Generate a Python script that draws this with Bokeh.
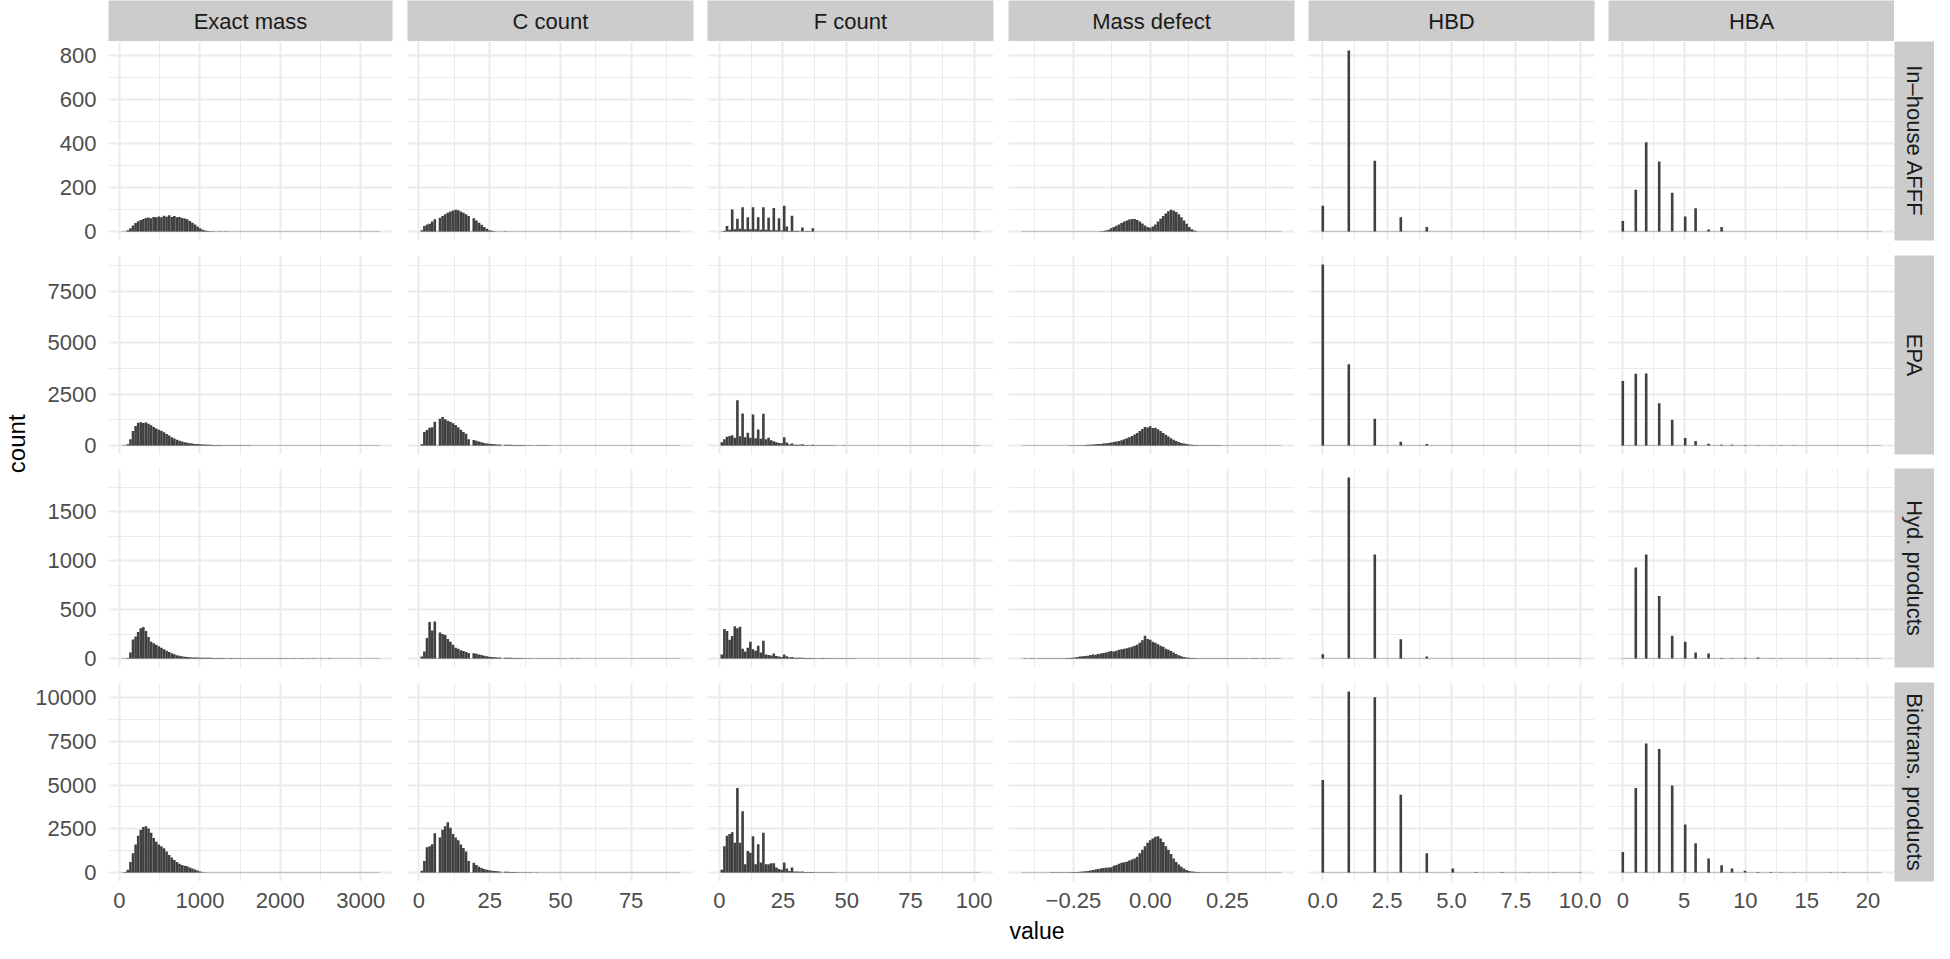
import numpy as np
from bokeh.plotting import figure
from bokeh.models import Range1d, FixedTicker, GridBox
from bokeh.embed import file_html
from bokeh.resources import INLINE
from bokeh.core.properties import value

# ---------------- data ----------------
variables = ["Exact mass", "C count", "F count", "Mass defect", "HBD", "HBA"]
datasets = ["In–house AFFF", "EPA", "Hyd. products", "Biotrans. products"]

var_min = [40.0, 1.0, 1.0, -0.4143, 0.0, 0.0]
var_max = [3218.0, 92.0, 102.0, 0.4215, 10.0, 21.0]
n_bins = 100

# Exact mass: counts per histogram bin (bin 0 first)
mass_inhouse = [0, 0, 5, 15, 27, 38, 46, 52, 57, 61, 63, 60, 66, 64, 68, 65, 71, 67, 73, 66,
                70, 64, 66, 61, 59, 55, 48, 40, 31, 22, 14, 8, 4, 2, 1, 1, 0, 0, 1, 0, 1]
mass_epa = [0, 10, 60, 300, 700, 950, 1100, 1130, 1090, 1120, 1060, 980, 900, 830, 770, 710, 640,
            560, 480, 400, 340, 280, 230, 190, 160, 130, 110, 90, 75, 65, 55, 48, 42, 36, 30, 26,
            22, 20, 17, 15, 12, 10, 9, 8, 7, 6, 5, 5, 4, 4, 3, 3, 2, 2, 2, 1, 1, 2, 1, 1, 1, 0, 1,
            0, 1, 0, 0, 1, 0, 0, 1]
mass_hyd = [0, 0, 5, 60, 195, 225, 270, 310, 322, 280, 220, 170, 155, 140, 125, 110, 95, 80, 65, 52,
            42, 34, 27, 22, 18, 15, 13, 11, 10, 9, 8, 7, 7, 6, 6, 5, 5, 4, 4, 5, 3, 3, 4, 2, 3, 2, 2,
            3, 2, 2, 1, 2, 1, 2, 1, 1, 3, 1, 1, 1, 2, 1, 1, 1, 1, 0, 1, 1, 0, 2, 1, 0, 1, 0, 1, 0, 0,
            1, 0, 0, 1]
mass_bio = [0, 20, 150, 600, 1100, 1600, 2100, 2450, 2600, 2650, 2520, 2280, 1980, 1760, 1600, 1500,
            1380, 1200, 1000, 850, 720, 600, 500, 430, 390, 350, 290, 230, 170, 110, 55, 15, 5, 3,
            2, 2, 1, 1, 1, 0, 1]

# C count: counts per carbon number, starting at C = 1
c_first = 1
c_inhouse = [5, 25, 32, 35, 45, 55, 62, 70, 78, 85, 90, 95, 98, 96, 90, 85, 78, 70, 60, 50, 40, 30,
             20, 12, 6, 3, 1, 0, 0, 1]
c_epa = [60, 650, 750, 860, 880, 1150, 1300, 1380, 1280, 1200, 1150, 1080, 1000, 880, 760, 650, 570,
         300, 270, 230, 190, 150, 120, 100, 85, 70, 60, 50, 45, 40, 35, 30, 28, 25, 22, 20, 18, 15,
         12, 10, 9, 8, 7, 6, 5, 4, 3, 3, 2, 2]
c_hyd = [20, 70, 210, 374, 285, 378, 265, 250, 240, 200, 170, 140, 110, 100, 85, 75, 65, 55, 52, 48,
         40, 35, 28, 22, 18, 15, 12, 10, 9, 8, 7, 6, 5, 5, 4, 4, 3, 3, 3, 2, 2, 2, 2, 1, 2, 1, 1, 1,
         1, 1, 0, 1, 0, 1, 0, 1]
c_bio = [100, 650, 1450, 1500, 1620, 2250, 2000, 2450, 2650, 2880, 2560, 2200, 2000, 1850, 1600, 1400,
         1200, 660, 560, 430, 330, 250, 200, 160, 130, 100, 80, 65, 55, 45, 35, 30, 25, 20, 18, 15,
         12, 10, 8, 6, 5, 4, 3, 3, 2, 2, 1, 1]

# F count: counts per fluorine number, starting at F = 1
f_first = 1
f_inhouse = [0, 3, 25, 8, 100, 10, 58, 12, 110, 10, 65, 10, 110, 10, 65, 8, 110, 8, 62, 6, 106, 5,
             60, 4, 117, 3, 20, 2, 71, 2, 3, 1, 18, 1, 2, 1, 15]
f_epa = [150, 300, 420, 460, 500, 380, 2200, 450, 1550, 400, 620, 380, 1510, 350, 780, 330, 1540,
         300, 380, 250, 200, 150, 120, 110, 400, 80, 60, 50, 100, 40, 35, 30, 60, 25, 20, 15, 40,
         12, 10, 8, 15, 6, 5, 4, 8, 3, 3, 2, 5, 2, 2, 1, 3]
f_hyd = [40, 300, 280, 190, 230, 330, 310, 325, 100, 70, 110, 170, 95, 80, 130, 60, 180, 40, 35, 30,
         50, 25, 20, 15, 40, 12, 10, 10, 15, 8, 7, 6, 8, 5, 5, 4, 5, 3, 3, 3, 4, 2, 2, 2, 3, 2, 1,
         1, 2, 1, 1, 1, 1]
f_bio = [150, 1500, 2100, 2200, 2300, 1700, 4830, 1700, 3500, 470, 1230, 1130, 2080, 470, 1610, 570,
         2270, 470, 470, 530, 530, 280, 200, 150, 570, 120, 100, 90, 280, 60, 50, 40, 60, 30, 25,
         20, 30, 15, 12, 10, 12, 8, 6, 5, 6, 4, 3, 3, 3, 2, 2, 1, 1]

# Mass defect: counts per histogram bin (bin 0 first)
md_inhouse = [0, 0, 0, 0, 0, 0, 0, 0, 0, 0, 0, 0, 0, 0, 0, 0, 0, 0, 0, 0,
              0, 0, 0, 0, 0, 0, 0, 0, 0, 0, 1, 2, 4, 8, 14, 20, 26, 32, 38, 45,
              50, 54, 57, 56, 52, 45, 36, 27, 20, 17, 22, 32, 45, 58, 70, 82, 92, 98, 95, 88,
              78, 65, 50, 35, 20, 10, 4, 1]
md_epa = [0, 0, 1, 0, 0, 1, 0, 1, 0, 1, 1, 0, 1, 1, 2, 2, 3, 3, 4, 4,
          8, 10, 12, 15, 20, 30, 38, 45, 55, 65, 75, 90, 105, 120, 140, 165, 190, 220, 255, 300,
          350, 400, 460, 530, 610, 700, 800, 900, 870, 940, 850, 860, 790, 700, 610, 520, 430, 350,
          280, 220, 170, 125, 90, 65, 45, 30, 22, 17, 13, 10, 8, 7, 6, 5, 5, 4, 4, 3, 3, 3,
          2, 2, 2, 1, 2, 1, 1, 1, 0, 1, 0, 1, 0, 1, 0, 0, 1, 0, 0, 0]
md_hyd = [0, 1, 0, 1, 1, 0, 1, 1, 1, 2, 1, 2, 2, 2, 3, 2, 3, 4, 5, 8,
          10, 15, 20, 22, 25, 28, 35, 40, 38, 45, 50, 55, 60, 68, 75, 72, 80, 88, 95, 98,
          105, 112, 120, 130, 140, 160, 185, 231, 200, 190, 170, 160, 145, 130, 120, 100, 90, 75,
          60, 45, 34, 22, 14, 10, 7, 5, 4, 3, 3, 2, 2, 2, 3, 2, 2, 1, 2, 2, 1, 2,
          1, 1, 2, 1, 1, 1, 1, 0, 1, 1, 1, 0, 1, 1, 0, 1, 0, 1, 0, 0]
md_bio = [1, 1, 2, 2, 2, 3, 3, 3, 4, 4, 4, 5, 5, 6, 6, 5, 8, 10, 15, 20,
          25, 30, 40, 55, 70, 90, 110, 140, 170, 200, 230, 250, 270, 290, 300, 380, 430, 500, 560,
          580, 620, 680, 740, 800, 900, 1100, 1300, 1500, 1700, 1850, 1950, 2050, 2080, 1950, 1750,
          1500, 1300, 1050, 800, 600, 450, 320, 220, 140, 80, 50, 35, 25, 20, 15,
          12, 10, 9, 8, 7, 6, 6, 5, 5, 4, 4, 4, 3, 3, 3, 3, 2, 2, 2, 2, 2, 2, 1, 1, 1, 1, 1, 1, 0, 1]

# HBD: counts per donor number, starting at 0
hbd_first = 0
hbd_inhouse = [117, 821, 321, 65, 20]
hbd_epa = [8800, 3950, 1300, 180, 65, 10, 3]
hbd_hyd = [44, 1850, 1064, 197, 20, 3]
hbd_bio = [5300, 10360, 10040, 4450, 1100, 227, 20, 30, 15, 10, 5]

# HBA: counts per acceptor number, starting at 0
hba_first = 0
hba_inhouse = [48, 189, 405, 317, 176, 68, 105, 9, 20]
hba_epa = [3135, 3490, 3500, 2050, 1250, 357, 211, 80, 40, 30, 20, 15, 10, 5, 10, 3]
hba_hyd = [0, 929, 1064, 639, 231, 170, 61, 51, 5, 3, 8, 10, 3, 3, 0, 0, 0, 3, 0, 3]
hba_bio = [1174, 4830, 7386, 7064, 4981, 2746, 1667, 795, 417, 227, 95, 30, 20, 10, 5, 3, 3, 15, 10, 3, 2, 1]

x_major = [[0, 1000, 2000, 3000], [0, 25, 50, 75], [0, 25, 50, 75, 100], [-0.25, 0, 0.25],
           [0, 2.5, 5, 7.5, 10], [0, 5, 10, 15, 20]]
x_labels = [["0", "1000", "2000", "3000"], ["0", "25", "50", "75"], ["0", "25", "50", "75", "100"],
            ["−0.25", "0.00", "0.25"], ["0.0", "2.5", "5.0", "7.5", "10.0"], ["0", "5", "10", "15", "20"]]
x_minor = [[500, 1500, 2500], [12.5, 37.5, 62.5, 87.5], [12.5, 37.5, 62.5, 87.5],
           [-0.375, -0.125, 0.125, 0.375], [1.25, 3.75, 6.25, 8.75], [2.5, 7.5, 12.5, 17.5]]
y_major = [[0, 200, 400, 600, 800], [0, 2500, 5000, 7500], [0, 500, 1000, 1500],
           [0, 2500, 5000, 7500, 10000]]
y_labels = [["0", "200", "400", "600", "800"], ["0", "2500", "5000", "7500"],
            ["0", "500", "1000", "1500"], ["0", "2500", "5000", "7500", "10000"]]
y_minor = [[100, 300, 500, 700], [1250, 3750, 6250, 8750], [250, 750, 1250, 1750],
           [1250, 3750, 6250, 8750]]

# panel table: (values, first integer value or None for per-bin counts)
table = [
    [(mass_inhouse, None), (c_inhouse, c_first), (f_inhouse, f_first), (md_inhouse, None), (hbd_inhouse, hbd_first), (hba_inhouse, hba_first)],
    [(mass_epa, None), (c_epa, c_first), (f_epa, f_first), (md_epa, None), (hbd_epa, hbd_first), (hba_epa, hba_first)],
    [(mass_hyd, None), (c_hyd, c_first), (f_hyd, f_first), (md_hyd, None), (hbd_hyd, hbd_first), (hba_hyd, hba_first)],
    [(mass_bio, None), (c_bio, c_first), (f_bio, f_first), (md_bio, None), (hbd_bio, hbd_first), (hba_bio, hba_first)],
]

# ---------------- style / layout ----------------
FONT = "Liberation Sans"
GRID = "#EBEBEB"
STRIP = "#CCCCCC"
BAR = "#404040"
TICK_SIZE = "22px"
col_lb = [74, 8, 7, 8, 7, 7]
col_rb = [7, 7, 7, 7, 7, 0]
row_tb = [0, 8, 7, 8]
row_bb = [7, 7, 7, 37]
FW, FH = 286, 199
STRIP_H = 41
RSTRIP_W = 40
COUNT_W = 32
VALUE_H = 25


def bin_panel(c, vals, first):
    bw = (var_max[c] - var_min[c]) / (n_bins - 1)
    start = var_min[c] - bw / 2
    counts = np.zeros(n_bins)
    if first is None:
        counts[:len(vals)] = vals
    else:
        for i, cnt in enumerate(vals):
            k = int(np.floor((first + i - start) / bw + 1e-9))
            counts[min(max(k, 0), n_bins - 1)] += cnt
    lefts = start + np.arange(n_bins) * bw
    return lefts, lefts + bw, counts


def key(t):
    return int(t) if float(t).is_integer() else t


def bare(width, height, xr, yr, lb, rb, tb, bb, bg="white"):
    f = figure(width=width, height=height, x_range=xr, y_range=yr, output_backend="svg",
               toolbar_location=None, tools="", x_axis_location=None, y_axis_location=None,
               min_border_left=lb, min_border_right=rb, min_border_top=tb, min_border_bottom=bb,
               background_fill_color=bg, border_fill_color="white", outline_line_color=None,
               title=None)
    f.grid.visible = False
    return f


binned = [[bin_panel(c, *table[r][c]) for c in range(6)] for r in range(4)]
row_max = [max(binned[r][c][2].max() for c in range(6)) for r in range(4)]

children = []

# top strips
for c in range(6):
    s = bare(col_lb[c] + FW + col_rb[c], STRIP_H, Range1d(0, 1), Range1d(0, 1),
             col_lb[c], col_rb[c], 0, 0, bg=STRIP)
    s.text(x=[0.5], y=[0.5], text=[variables[c]], text_align="center", text_baseline="middle",
           text_font=value(FONT), text_font_size=TICK_SIZE, text_color="#1A1A1A")
    children.append((s, 0, c + 1))

# panels
for r in range(4):
    M = row_max[r]
    for c in range(6):
        lefts, rights, cnt = binned[r][c]
        x0, x1 = lefts[0], rights[-1]
        span = x1 - x0
        p = figure(width=col_lb[c] + FW + col_rb[c], height=row_tb[r] + FH + row_bb[r],
                   x_range=Range1d(x0 - 0.05 * span, x1 + 0.05 * span),
                   y_range=Range1d(-0.05 * M, 1.05 * M),
                   output_backend="svg", toolbar_location=None, tools="",
                   x_axis_location="below" if r == 3 else None,
                   y_axis_location="left" if c == 0 else None,
                   min_border_left=col_lb[c], min_border_right=col_rb[c],
                   min_border_top=row_tb[r], min_border_bottom=row_bb[r],
                   background_fill_color="white", border_fill_color="white",
                   outline_line_color=None, title=None)
        p.xgrid.ticker = FixedTicker(ticks=x_major[c], minor_ticks=x_minor[c])
        p.ygrid.ticker = FixedTicker(ticks=y_major[r], minor_ticks=y_minor[r])
        for g in (p.xgrid, p.ygrid):
            g.grid_line_color = GRID
            g.grid_line_width = 2
            g.minor_grid_line_color = GRID
            g.minor_grid_line_width = 1
        p.segment(x0=[x0], y0=[0], x1=[x1], y1=[0], line_color="#BDBDBD", line_width=1)
        m = cnt > 0
        p.quad(left=lefts[m], right=rights[m], bottom=0, top=cnt[m], fill_color=BAR, line_color=None)
        axes = []
        if r == 3:
            ax = p.xaxis[0]
            ax.ticker = FixedTicker(ticks=x_major[c], minor_ticks=x_minor[c])
            ax.major_label_overrides = {key(t): l for t, l in zip(x_major[c], x_labels[c])}
            ax.major_label_standoff = 11
            axes.append(ax)
        if c == 0:
            ax = p.yaxis[0]
            ax.ticker = FixedTicker(ticks=y_major[r], minor_ticks=y_minor[r])
            ax.major_label_overrides = {key(t): l for t, l in zip(y_major[r], y_labels[r])}
            ax.major_label_standoff = 12
            axes.append(ax)
        for ax in axes:
            ax.axis_line_color = None
            ax.major_tick_line_color = None
            ax.minor_tick_line_color = None
            ax.major_tick_out = 0
            ax.major_tick_in = 0
            ax.minor_tick_out = 0
            ax.minor_tick_in = 0
            ax.major_label_text_font = FONT
            ax.major_label_text_font_size = TICK_SIZE
            ax.major_label_text_color = "#4D4D4D"
        children.append((p, r + 1, c + 1))

    # right strip
    s = bare(RSTRIP_W, row_tb[r] + FH + row_bb[r], Range1d(0, 1), Range1d(0, 1),
             0, 0, row_tb[r], row_bb[r], bg=STRIP)
    s.text(x=[0.5], y=[0.5], text=[datasets[r]], angle=-np.pi / 2, text_align="center",
           text_baseline="middle", text_font=value(FONT), text_font_size=TICK_SIZE,
           text_color="#1A1A1A")
    children.append((s, r + 1, 7))

# axis titles
H_rows = sum(row_tb[r] + FH + row_bb[r] for r in range(4))
cf = bare(COUNT_W, H_rows, Range1d(0, COUNT_W), Range1d(0, H_rows), 0, 0, 0, 0)
panel_top = row_tb[0]
panel_bottom = H_rows - row_bb[3]
cf.text(x=[16], y=[H_rows - (panel_top + panel_bottom) / 2], text=["count"],
        angle=np.pi / 2, text_align="center", text_baseline="middle",
        text_font=value(FONT), text_font_size="24px", text_color="black")
children.append((cf, 1, 0, 4, 1))

W_cols = sum(col_lb[c] + FW + col_rb[c] for c in range(6))
vf = bare(W_cols, VALUE_H, Range1d(0, W_cols), Range1d(0, VALUE_H), 0, 0, 0, 0)
vf.text(x=[(col_lb[0] + W_cols - col_rb[5]) / 2], y=[VALUE_H / 2], text=["value"],
        text_align="center", text_baseline="middle", text_font=value(FONT),
        text_font_size="23px", text_color="black")
children.append((vf, 5, 1, 1, 6))

layout = GridBox(children=children, spacing=0)
open("out.html", "w").write(file_html(layout, INLINE))
